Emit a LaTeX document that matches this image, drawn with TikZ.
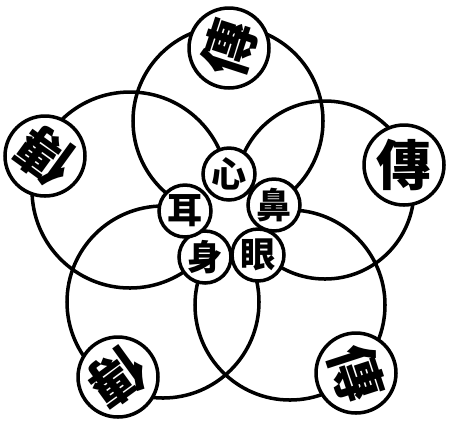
\documentclass[tikz,border=0pt]{standalone}
\usepackage{fontspec}
\newfontfamily\cjk{Noto Sans CJK TC}
\tikzset{
  petal/.style={line width=2pt},
  outerseal/.style={circle, draw, line width=2pt, fill=white, minimum size=1.6cm, inner sep=0pt},
  innerseal/.style={circle, draw, line width=2pt, fill=white, minimum size=1.04cm, inner sep=0pt},
  bigglyph/.style={inner sep=0pt, font=\cjk\bfseries\fontsize{31}{31}\selectfont},
  smallglyph/.style={inner sep=0pt, font=\cjk\bfseries\fontsize{20}{20}\selectfont},
}
\begin{document}
\begin{tikzpicture}[x=0.02cm, y=-0.02cm]
    \useasboundingbox (0,0) rectangle (455,424);

    % five large circles
    \draw[petal] (228,121) circle [radius=95];
    \draw[petal] (325,190) circle [radius=89];
    \draw[petal] (290,305) circle [radius=95];
    \draw[petal] (163,302) circle [radius=96];
    \draw[petal] (130,190) circle [radius=98];

    % blank middle
    \fill[white] (230,220) circle [radius=40];

    % inner ring
    \node[innerseal] (xin) at (229,174) {};
    \node[innerseal] (bi)  at (274,205) {};
    \node[innerseal] (yan) at (258,255) {};
    \node[innerseal] (shen) at (205,257) {};
    \node[innerseal] (er)  at (185,211) {};

    \node[smallglyph] (xint) at (xin) {心};
    \node[smallglyph] (bit) at (bi) {鼻};
    \node[smallglyph] (yant) at (yan) {眼};
    \node[smallglyph] (shent) at (shen) {身};
    \node[smallglyph] (ert) at (er) {耳};

    % outer seals
    \node[outerseal] (sealT) at (229,48) {};
    \node[outerseal] (sealR) at (404,165) {};
    \node[outerseal] (sealL) at (45,156) {};
    \node[outerseal] (sealBL) at (118,377) {};
    \node[outerseal] (sealBR) at (356,373) {};

    \node[bigglyph, rotate=72]  (chuanT) at (sealT) {傳};
    \node[bigglyph]             (chuanR) at (sealR) {傳};
    \node[bigglyph, rotate=144] (chuanL) at (sealL) {傳};
    \node[bigglyph, rotate=216] (chuanBL) at (sealBL) {傳};
    \node[bigglyph, rotate=288] (chuanBR) at (sealBR) {傳};
\end{tikzpicture}
\end{document}
